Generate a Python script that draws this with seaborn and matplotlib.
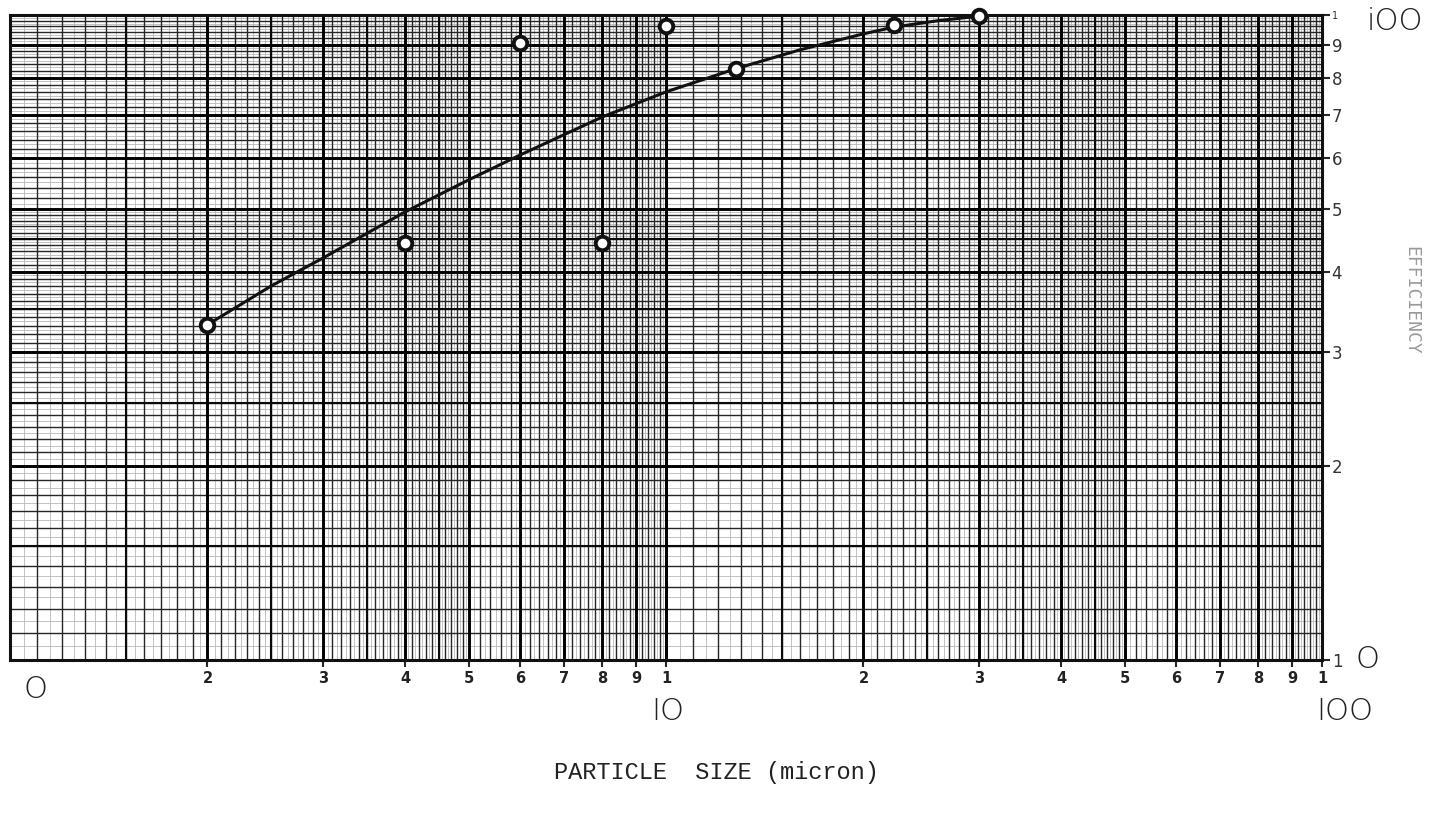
import numpy as np
import pandas as pd
import matplotlib
matplotlib.use("Agg")
import matplotlib.pyplot as plt
import seaborn as sns

# ---- data ----
particle_size = [2, 4, 6, 8, 10, 12.8, 22.3, 30]
efficiency = [33.1, 44.3, 90.5, 44.3, 96.0, 82.6, 96.4, 99.6]

curve_size = [2, 2.5, 3, 4, 5, 6, 8, 10, 12.8, 16, 20, 22.3, 26, 30]
curve_eff = [33.1, 38.0, 42.0, 49.5, 55.5, 60.7, 69.5, 76.0, 82.6, 88.3, 93.5, 95.8, 98.0, 99.6]

x_ticks = [2, 3, 4, 5, 6, 7, 8, 9, 10, 20, 30, 40, 50, 60, 70, 80, 90, 100]
x_tick_labels = ["2", "3", "4", "5", "6", "7", "8", "9", "1",
                 "2", "3", "4", "5", "6", "7", "8", "9", "1"]
y_ticks = [10, 20, 30, 40, 50, 60, 70, 80, 90, 100]
y_tick_labels = ["1", "2", "3", "4", "5", "6", "7", "8", "9", "1"]

points = pd.DataFrame({"size": particle_size, "eff": efficiency})
curve = pd.DataFrame({"size": curve_size, "eff": curve_eff})

sns.set_style("white")
plt.rcParams["font.family"] = ["DejaVu Sans"]

W, H = 1432, 815
fig = plt.figure(figsize=(W / 100, H / 100), dpi=100)
L, R, T, B = 10, 1322, 15, 660
ax = fig.add_axes([L / W, 1 - B / H, (R - L) / W, (B - T) / H])
ax.set_xscale("log")
ax.set_yscale("log")
ax.set_xlim(1, 100)
ax.set_ylim(10, 100)


def paper(decade):
    fine = np.concatenate([np.arange(1, 5, 0.05), np.arange(5, 10, 0.1)]) * decade
    minor = np.concatenate([np.arange(1, 5, 0.1), np.arange(5, 10, 0.2)]) * decade
    half = np.arange(1.5, 5, 1.0) * decade
    major = np.arange(1, 11, 1) * decade
    return fine, minor, half, major


def draw(fn, dec):
    fine, minor, half, major = paper(dec)
    for v in fine:
        fn(v, color="#b8b8b8", lw=0.6, zorder=0.5)
    for v in minor:
        fn(v, color="#262626", lw=1.0, zorder=0.6)
    for v in half:
        fn(v, color="#0a0a0a", lw=1.5, zorder=0.7)
    for v in major:
        fn(v, color="#000000", lw=2.1, zorder=0.8)


for dec in (1, 10):
    draw(ax.axvline, dec)
draw(ax.axhline, 10)

sns.lineplot(data=curve, x="size", y="eff", ax=ax, color="#111111", lw=2.2,
             sort=False, estimator=None, zorder=3)
sns.scatterplot(data=points, x="size", y="eff", ax=ax, marker="o", s=95,
                facecolor="white", edgecolor="#111111", linewidth=2.8, zorder=4,
                clip_on=False)

for s in ax.spines.values():
    s.set_linewidth(2.2)
    s.set_color("#111111")

ax.set_xticks(x_ticks)
ax.set_xticklabels(x_tick_labels, fontsize=10.5, fontweight="bold", color="#222222")
ax.set_xticks([], minor=True)
ax.yaxis.tick_right()
ax.set_yticks(y_ticks)
ax.set_yticklabels(y_tick_labels, fontsize=12, color="#333333")
ax.set_yticks([], minor=True)
ax.tick_params(axis="x", direction="out", length=5, width=1.5, pad=3, bottom=True)
ax.tick_params(axis="y", direction="out", length=6, width=1.5, pad=1, right=True, left=False)
ax.get_yticklabels()[-1].set_fontsize(7)
ax.set_xlabel("")
ax.set_ylabel("")


def ftext(x, y, s, **kw):
    fig.text(x / W, 1 - y / H, s, ha="center", va="center", **kw)


big = dict(fontsize=22, color="#222222", fontweight="light")
ftext(35, 690, "O", **big)
ftext(668, 712, "IO", **big)
ftext(1345, 712, "IOO", **big)
ftext(1395, 22, "iOO", **big)
ftext(1368, 660, "O", **big)

ftext(716, 772, "PARTICLE  SIZE (micron)", fontsize=17, family="Liberation Mono", color="#222222")
ftext(1411, 300, "EFFICIENCY", fontsize=13, rotation=-90, color="#9a9a9a",
      family="DejaVu Sans Mono")

fig.savefig("out.png", dpi=100, facecolor="white")
